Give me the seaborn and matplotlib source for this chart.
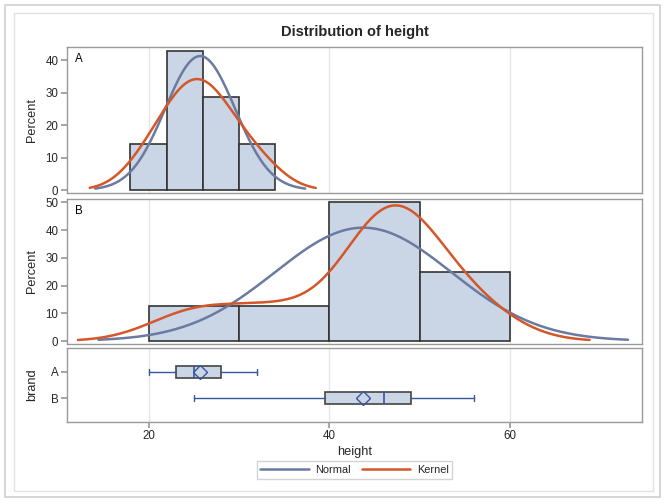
import numpy as np
import pandas as pd
import matplotlib
matplotlib.use("Agg")
import matplotlib.pyplot as plt
from matplotlib.lines import Line2D
from matplotlib.patches import Rectangle
import seaborn as sns

# ---------------- data ----------------
brands = ["A", "B"]
height_A = [20, 23, 24.5, 25, 27.5, 28, 32]
height_B = [25, 34, 45, 45, 47, 48, 50, 56]
bin_start = [18, 20]
bin_width = [4, 10]
bin_count = [4, 4]
kde_bandwidth = [2.9, 5.0]
kde_cut = [6.5, 12.8]
yticks_A = [0, 10, 20, 30, 40]
yticks_B = [0, 10, 20, 30, 40, 50]
xticks = [20, 40, 60]

title = "Distribution of height"
xlabel = "height"
ylabel_hist = "Percent"
ylabel_box = "brand"
legend_labels = ["Normal", "Kernel"]

# ---------------- style ----------------
sns.set_theme(style="white")
plt.rcParams["font.family"] = ["Liberation Sans", "DejaVu Sans"]

FILL = "#CAD5E5"
EDGE = "#333333"
BLUE = "#6A7AA0"
RED = "#D4572A"
BOXBLUE = "#3A55A0"
SPINE = "#9A9A9A"
GRID = "#E6E6E6"
TICKSIZE = 8.3
LABELSIZE = 9.2

W, H = 665, 500
fig = plt.figure(figsize=(W / 100, H / 100), dpi=100)


def fx(px):
    return px / W


def fy(py):
    return 1 - py / H


left, right = 66.7, 642.3
axA = fig.add_axes([fx(left), fy(193.3), fx(right - left), (193.3 - 46.7) / H])
axB = fig.add_axes([fx(left), fy(344.0), fx(right - left), (344.0 - 198.7) / H])
axX = fig.add_axes([fx(left), fy(422.0), fx(right - left), (422.0 - 348.3) / H])

xlim = (10.95, 74.63)
data = [height_A, height_B]
hist_axes = [axA, axB]
ylims = [(-1.0, 44.1), (-1.08, 51.3)]
yticks = [yticks_A, yticks_B]

for i, ax in enumerate(hist_axes):
    vals = np.asarray(data[i], dtype=float)
    edges = bin_start[i] + bin_width[i] * np.arange(bin_count[i] + 1)
    df = pd.DataFrame({"height": vals})
    sns.histplot(data=df, x="height", bins=edges, stat="percent", ax=ax,
                 color=FILL, edgecolor=EDGE, linewidth=1.2, alpha=1.0, zorder=2)
    # normal fit (percent scale)
    mu, sd = vals.mean(), vals.std(ddof=1)
    xn = np.linspace(mu - 3 * sd, mu + 3 * sd, 300)
    yn = bin_width[i] * 100 * np.exp(-0.5 * ((xn - mu) / sd) ** 2) / (sd * np.sqrt(2 * np.pi))
    sns.lineplot(x=xn, y=yn, ax=ax, color=BLUE, linewidth=1.8, estimator=None, sort=False, zorder=3)
    # kernel density (percent scale)
    h = kde_bandwidth[i]
    xk = np.linspace(vals.min() - kde_cut[i], vals.max() + kde_cut[i], 300)
    dens = np.exp(-0.5 * ((xk[:, None] - vals[None, :]) / h) ** 2).sum(axis=1) / (len(vals) * h * np.sqrt(2 * np.pi))
    yk = bin_width[i] * 100 * dens
    sns.lineplot(x=xk, y=yk, ax=ax, color=RED, linewidth=1.8, estimator=None, sort=False, zorder=4)

    ax.set_xlim(*xlim)
    ax.set_ylim(*ylims[i])
    ax.set_yticks(yticks[i])
    ax.set_xticks(xticks)
    ax.tick_params(axis="x", bottom=False, labelbottom=False)
    ax.set_xlabel("")
    ax.set_ylabel(ylabel_hist)
    ax.text(0.014, 0.955, brands[i], transform=ax.transAxes, ha="left", va="top",
            fontsize=8.3, color="black")

# ---------------- box plot panel ----------------
stats = []
for i, b in enumerate(brands):
    vals = np.asarray(data[i], dtype=float)
    q1, med, q3 = np.percentile(vals, [25, 50, 75], method="averaged_inverted_cdf")
    stats.append(dict(label=b, med=med, q1=q1, q3=q3, whislo=vals.min(),
                      whishi=vals.max(), mean=vals.mean(), fliers=[]))

axX.bxp(stats, positions=[0, 1], widths=0.45, orientation="horizontal",
        showmeans=True, patch_artist=True, capwidths=0.22,
        boxprops=dict(facecolor=FILL, edgecolor="#444444", linewidth=1.2),
        whiskerprops=dict(color=BOXBLUE, linewidth=1.0),
        capprops=dict(color=BOXBLUE, linewidth=1.0),
        medianprops=dict(color=BOXBLUE, linewidth=1.2),
        meanprops=dict(marker="D", markerfacecolor="none", markeredgecolor=BOXBLUE,
                       markersize=7, markeredgewidth=1.0),
        zorder=3)
axX.set_xlim(*xlim)
axX.set_ylim(1.89, -0.88)
axX.set_yticks([0, 1])
axX.set_yticklabels(brands)
axX.set_xticks(xticks)
axX.set_xlabel(xlabel, fontsize=LABELSIZE, labelpad=3)
axX.set_ylabel(ylabel_box)

for ax in [axA, axB, axX]:
    ax.set_facecolor("white")
    ax.grid(axis="x", color=GRID, linewidth=1.0, zorder=0)
    ax.grid(axis="y", visible=False)
    ax.set_axisbelow(True)
    for s in ax.spines.values():
        s.set_color(SPINE)
        s.set_linewidth(1.0)
    ax.tick_params(axis="y", left=True, length=4, color=SPINE, labelsize=TICKSIZE, pad=2)
    ax.yaxis.label.set_size(LABELSIZE)
    ax.yaxis.set_label_coords(-0.05, 0.5)

axX.tick_params(axis="x", bottom=True, length=4, color=SPINE, labelsize=TICKSIZE, pad=2)

fig.text(354.5 / W, fy(32), title, ha="center", va="center", fontsize=10.5, fontweight="bold")

handles = [Line2D([], [], color=BLUE, linewidth=1.8), Line2D([], [], color=RED, linewidth=1.8)]
leg = fig.legend(handles, legend_labels, loc="center", bbox_to_anchor=(354.5 / W, fy(470)),
                 ncol=2, frameon=True, fancybox=False, fontsize=7.9, handlelength=4.4,
                 columnspacing=1.0, handletextpad=0.6, borderpad=0.35)
leg.get_frame().set_edgecolor("#C8C8C8")
leg.get_frame().set_linewidth(1.0)

# outer frames
fig.patches.append(Rectangle((fx(5), fy(497)), fx(655), 492 / H, transform=fig.transFigure,
                             fill=False, edgecolor="#D0D0D0", linewidth=1.2, zorder=0))
fig.patches.append(Rectangle((fx(14), fy(491)), fx(639), 478 / H, transform=fig.transFigure,
                             fill=False, edgecolor="#E2E2E2", linewidth=1.0, zorder=0))

fig.savefig("out.png", dpi=100)
